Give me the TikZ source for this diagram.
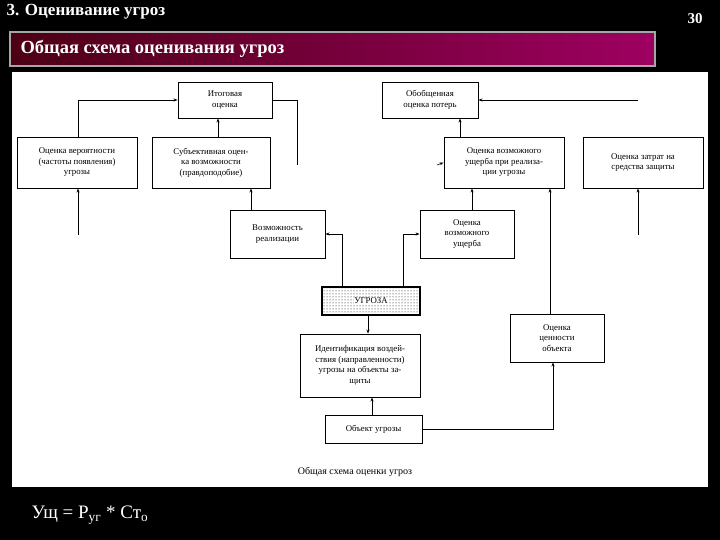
\documentclass[tikz,border=0pt]{standalone}
\usepackage{fontspec}
\setmainfont{Liberation Serif}
\usetikzlibrary{patterns,arrows.meta}
\begin{document}
\begin{tikzpicture}[x=1pt,y=-1pt,
  bx/.style={draw,line width=0.9pt,fill=white,align=center,font=\fontsize{8.8}{10.5}\selectfont,inner sep=1pt},
  ar/.style={-{Stealth[length=4pt,width=3pt]},line width=0.6pt},
  ln/.style={line width=0.6pt}]
\fill[black] (0,0) rectangle (720,540);
\useasboundingbox (0,0) rectangle (720,540);
\node[anchor=west,text=white,font=\bfseries\fontsize{17}{19}\selectfont] (t) at (3,12) {3. Оценивание угроз};
\node[text=white,font=\bfseries\fontsize{15}{17}\selectfont] (n) at (695,19) {30};
\shade[left color={rgb,1:red,0.3;green,0;blue,0.08},right color={rgb,1:red,0.62;green,0;blue,0.38}] (10,32) rectangle (655,66);
\draw[gray!70,line width=1.2pt] (10,32) rectangle (655,66);
\node[anchor=west,text=white,font=\bfseries\fontsize{18.5}{20}\selectfont] (tb) at (17,49) {Общая схема оценивания угроз};
\fill[white] (12,72) rectangle (708,487);
% boxes
\node[bx,minimum width=94,minimum height=36] (itog) at (225,100) {Итоговая\\оценка};
\node[bx,minimum width=96,minimum height=36] (obob) at (430,100) {Обобщенная\\оценка потерь};
\node[bx,minimum width=120,minimum height=51] (ver) at (77,162.5) {Оценка вероятности\\(частоты появления)\\угрозы};
\node[bx,minimum width=118,minimum height=51] (sub) at (211,162.5) {Субъективная оцен-\\ка возможности\\(правдоподобие)};
\node[bx,minimum width=120,minimum height=51] (ushr) at (504,162.5) {Оценка возможного\\ущерба при реализа-\\ции угрозы};
\node[bx,minimum width=120,minimum height=51] (zat) at (643,162.5) {Оценка затрат на\\средства защиты};
\node[bx,minimum width=95,minimum height=48] (voz) at (277.5,234) {Возможность\\реализации};
\node[bx,minimum width=94,minimum height=48] (ush) at (467,234) {Оценка\\возможного\\ущерба};
\node[draw,line width=2pt,pattern=dots,minimum width=98,minimum height=28] (ugr) at (371,301) {};
\node[fill=white,inner sep=0.5pt,font=\fontsize{8.8}{10.5}\selectfont] (ugrt) at (371,301) {УГРОЗА};
\node[bx,minimum width=120,minimum height=63] (ident) at (360,365.5) {Идентификация воздей-\\ствия (направленности)\\угрозы на объекты за-\\щиты};
\node[bx,minimum width=94,minimum height=48] (cen) at (557,338) {Оценка\\ценности\\объекта};
\node[bx,minimum width=97,minimum height=28] (obj) at (373.5,429) {Объект угрозы};
\node[font=\fontsize{10}{12}\selectfont] (cap) at (355,472) {Общая схема оценки угроз};
\node[anchor=west,text=white,font=\fontsize{19}{21}\selectfont] (f) at (28,515) {Ущ = P\textsubscript{уг} * Ст\textsubscript{о}};
% free coordinates
\coordinate (a1) at (78,235);
\coordinate (a2) at (638,235);
\coordinate (a3) at (638,100);
\coordinate (a4) at (297,165);
\coordinate (a5) at (437,165);
% connectors
\draw[ar] (ver.north -| 78,0) |- (itog.west);
\draw[ar] (sub.north -| 218,0) -- (itog.south -| 218,0);
\draw[ln] (itog.east) -| (a4);
\draw[ar] (a5) -- (ushr.west);
\draw[ar] (a1) -- (ver.south -| 78,0);
\draw[ar] (voz.north -| 251,0) -- (sub.south -| 251,0);
\draw[ar] (ugr.north -| 342,0) |- (voz.east);
\draw[ar] (ugr.north -| 403,0) |- (ush.west);
\draw[ar] (ush.north -| 472,0) -- (ushr.south -| 472,0);
\draw[ar] (ushr.north -| 460,0) -- (obob.south -| 460,0);
\draw[ar] (a3) -- (obob.east);
\draw[ar] (a2) -- (zat.south -| 638,0);
\draw[ar] (cen.north -| 550,0) -- (ushr.south -| 550,0);
\draw[ar] (ugr.south -| 368,0) -- (ident.north -| 368,0);
\draw[ar] (obj.north -| 372,0) -- (ident.south -| 372,0);
\draw[ar] (obj.east) -| (cen.south -| 553,0);
\end{tikzpicture}
\end{document}
